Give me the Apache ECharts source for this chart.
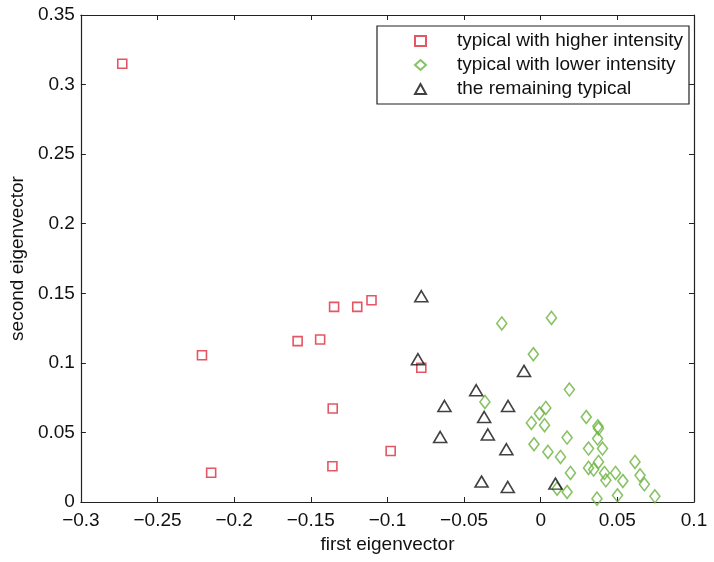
<!DOCTYPE html>
<html>
<head>
<meta charset="utf-8">
<script src="https://cdn.jsdelivr.net/npm/echarts@6/dist/echarts.min.js"></script>
<style>html,body{margin:0;padding:0;background:#fff;}#c{width:714px;height:562px;}</style>
</head>
<body>
<div id="c"></div>
<script>
var seriesNames = ['typical with higher intensity', 'typical with lower intensity', 'the remaining typical'];
var xTicks = [-0.3, -0.25, -0.2, -0.15, -0.1, -0.05, 0, 0.05, 0.1];
var yTicks = [0, 0.05, 0.1, 0.15, 0.2, 0.25, 0.3, 0.35];

var higherIntensity = [
  [-0.273, 0.315], [-0.221, 0.1055], [-0.215, 0.021], [-0.1586, 0.1156],
  [-0.1439, 0.1168], [-0.1348, 0.1402], [-0.1357, 0.0672], [-0.1359, 0.0257],
  [-0.1197, 0.1402], [-0.1104, 0.145], [-0.0779, 0.0965], [-0.0979, 0.0367]
];
var lowerIntensity = [
  [-0.0254, 0.1283], [0.0070, 0.1323], [-0.0048, 0.1062], [0.0187, 0.0808],
  [-0.0364, 0.0719], [0.0033, 0.0676], [-0.0009, 0.0636], [-0.0061, 0.0568],
  [0.0025, 0.0552], [0.0297, 0.0611], [0.0373, 0.0544], [0.0377, 0.0528],
  [0.0172, 0.0463], [0.0371, 0.0456], [-0.0044, 0.0415], [0.0312, 0.0384],
  [0.0403, 0.0384], [0.0047, 0.036], [0.0129, 0.0324], [0.0377, 0.0288],
  [0.0615, 0.0288], [0.0312, 0.0245], [0.0345, 0.0233], [0.0416, 0.0209],
  [0.0194, 0.0209], [0.0488, 0.0209], [0.0648, 0.0192], [0.0425, 0.0156],
  [0.0536, 0.0151], [0.0676, 0.0127], [0.0107, 0.0096], [0.0172, 0.0072],
  [0.0501, 0.0048], [0.0367, 0.0024], [0.0745, 0.0041]
];
var remainingTypical = [
  [-0.0779, 0.1479], [-0.0801, 0.1026], [-0.0109, 0.0942], [-0.0421, 0.0803],
  [-0.0628, 0.069], [-0.0213, 0.069], [-0.0369, 0.0611], [-0.0345, 0.0485],
  [-0.0656, 0.0467], [-0.0224, 0.0379], [-0.0386, 0.0147], [-0.0215, 0.0108],
  [0.0096, 0.0132]
];

var FONT = '"Liberation Sans", Arial, Helvetica, sans-serif';
var AX = '#222';
function fmt(v) {
  var s = String(Math.round(v * 1000) / 1000);
  return s.replace('-', '\u2212');
}
function axisBase(min, max, interval, pos, show) {
  return {
    type: 'value', min: min, max: max, interval: interval, position: pos,
    axisLine: { show: true, onZero: false, lineStyle: { color: AX, width: 1.2 } },
    axisTick: { show: true, inside: true, length: 5, lineStyle: { color: AX, width: 1 } },
    splitLine: { show: false },
    axisLabel: { show: show, color: '#111', fontFamily: FONT, fontSize: 19, formatter: fmt }
  };
}

var chart = echarts.init(document.getElementById('c'), null, { renderer: 'canvas' });
var xMain = axisBase(xTicks[0], xTicks[xTicks.length - 1], 0.05, 'bottom', true);
xMain.axisLabel.margin = 9;
xMain.name = 'first eigenvector';
xMain.nameLocation = 'middle';
xMain.nameGap = 31;
xMain.nameTextStyle = { color: '#111', fontFamily: FONT, fontSize: 19 };
var xTop = axisBase(xTicks[0], xTicks[xTicks.length - 1], 0.05, 'top', false);
var yMain = axisBase(yTicks[0], yTicks[yTicks.length - 1], 0.05, 'left', true);
yMain.axisLabel.margin = 6;
yMain.name = 'second eigenvector';
yMain.nameLocation = 'middle';
yMain.nameGap = 50;
yMain.nameTextStyle = { color: '#111', fontFamily: FONT, fontSize: 19 };
var yRight = axisBase(yTicks[0], yTicks[yTicks.length - 1], 0.05, 'right', false);

chart.setOption({
  animation: false,
  backgroundColor: '#fff',
  grid: { left: 78, right: 20, top: 15, bottom: 60, containLabel: false },
  xAxis: [xMain, xTop],
  yAxis: [yMain, yRight],
  legend: {
    orient: 'vertical',
    left: 377, top: 26,
    padding: [5, 6, 5, 37],
    itemWidth: 11, itemHeight: 10,
    itemGap: 4,
    symbolKeepAspect: true,
    backgroundColor: '#fff',
    borderColor: '#222', borderWidth: 1.2, borderRadius: 0,
    textStyle: { color: '#111', fontFamily: FONT, fontSize: 19, lineHeight: 20, padding: [0, 0, 0, 26] },
    data: seriesNames
  },
  series: [
    {
      name: seriesNames[0], type: 'scatter', data: higherIntensity,
      symbol: 'rect', symbolSize: 9,
      itemStyle: { color: 'rgba(255,255,255,0)', borderColor: '#dd2c3c', borderWidth: 1.6 }
    },
    {
      name: seriesNames[1], type: 'scatter', data: lowerIntensity,
      symbol: 'diamond', symbolSize: [10, 13],
      itemStyle: { color: 'rgba(255,255,255,0)', borderColor: '#6cb33e', borderWidth: 1.6 }
    },
    {
      name: seriesNames[2], type: 'scatter', data: remainingTypical,
      symbol: 'triangle', symbolSize: [13, 11],
      itemStyle: { color: 'rgba(255,255,255,0)', borderColor: '#111', borderWidth: 1.6 }
    }
  ]
});
</script>
</body>
</html>
